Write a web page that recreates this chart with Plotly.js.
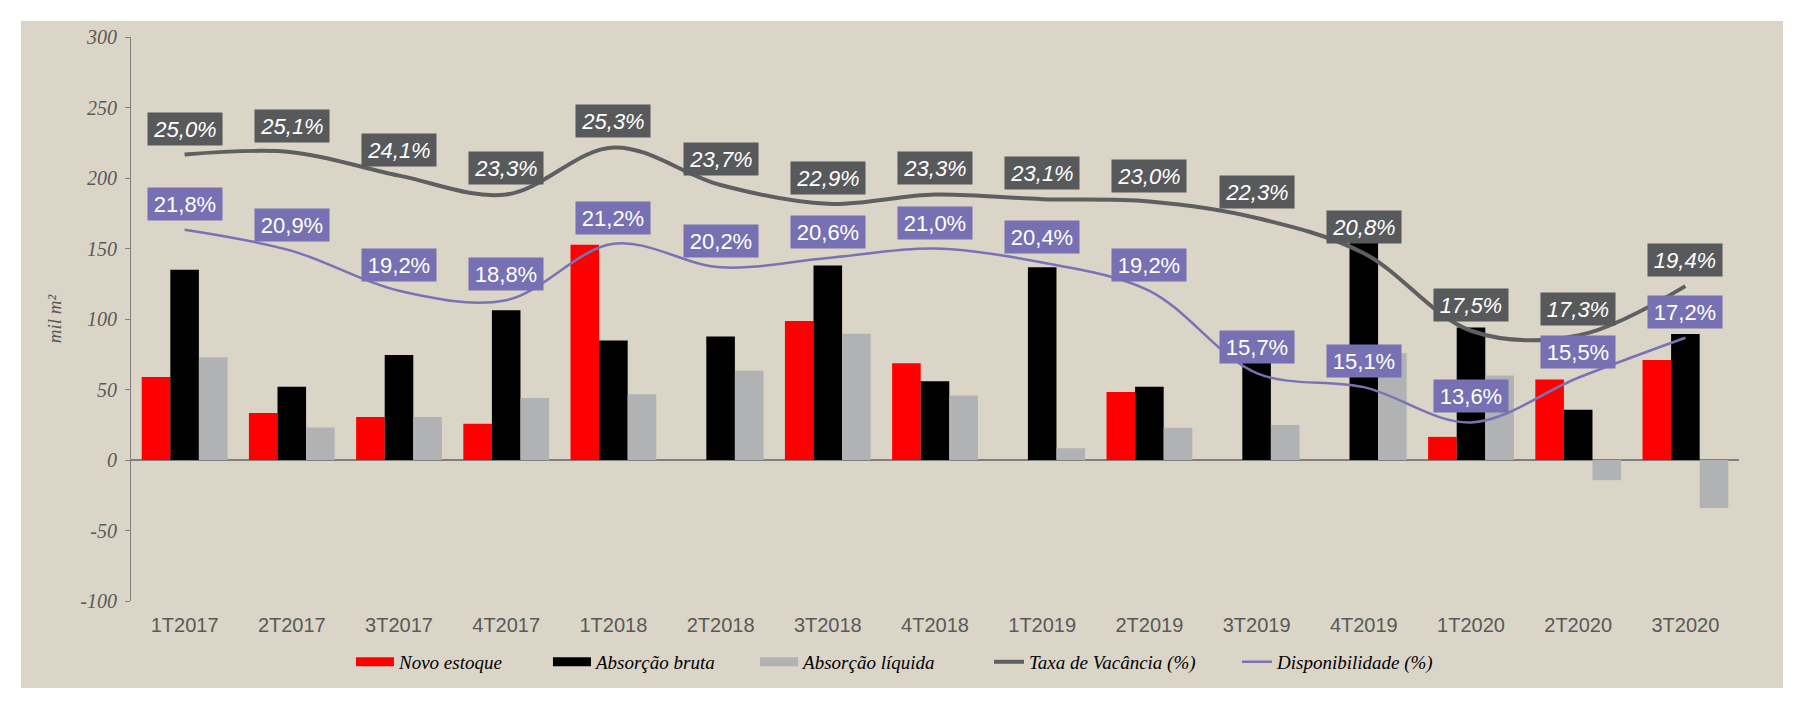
<!DOCTYPE html>
<html>
<head>
<meta charset="utf-8">
<script src="https://cdn.plot.ly/plotly-3.0.1.min.js"></script>
<style>
  html, body { margin: 0; padding: 0; background: #ffffff; }
  #chart { position: absolute; left: 21px; top: 21px; width: 1762px; height: 667px; }
</style>
</head>
<body>
<div id="chart"></div>
<script>
const categories = ['1T2017','2T2017','3T2017','4T2017','1T2018','2T2018','3T2018','4T2018','1T2019','2T2019','3T2019','4T2019','1T2020','2T2020','3T2020'];
const novoEstoque     = [58.8, 33.3, 30.5, 25.7, 152.6, 0, 98.6, 68.6, 0, 48.3, 0, 0, 16.4, 57.1, 70.9];
const absorcaoBruta   = [135, 51.9, 74.5, 106.2, 84.8, 87.6, 138, 55.9, 136.7, 51.9, 70.2, 155.2, 94, 35.7, 89.3];
const absorcaoLiquida = [72.9, 23.1, 30.5, 44, 46.7, 63.3, 89.5, 45.7, 8.3, 22.9, 24.8, 75.7, 60, -14.3, -34];
const taxaVacancia    = [25.0, 25.1, 24.1, 23.3, 25.3, 23.7, 22.9, 23.3, 23.1, 23.0, 22.3, 20.8, 17.5, 17.3, 19.4];
const disponibilidade = [21.8, 20.9, 19.2, 18.8, 21.2, 20.2, 20.6, 21.0, 20.4, 19.2, 15.7, 15.1, 13.6, 15.5, 17.2];
const yTickVals = [-100, -50, 0, 50, 100, 150, 200, 250, 300];
const yTickText = ['-100', '-50', '0', '50', '100', '150', '200', '250', '300'];

const RED = '#ff0000', BLACK = '#000000', GREY = '#b1b2b3';
const TAXA = '#5e5f61', TAXA_BOX = '#58595b';
const DISP = '#7a72b5', DISP_BOX = '#7770b3';
const SERIF = "'Liberation Serif', 'Times New Roman', serif";
const SANS = "'Liberation Sans', Arial, sans-serif";
const fmt = v => v.toFixed(1).replace('.', ',') + '%';

const barNames = ['Novo estoque', 'Absorção bruta', 'Absorção líquida'];
const barData = [novoEstoque, absorcaoBruta, absorcaoLiquida];
const barColors = [RED, BLACK, GREY];
const lineNames = ['Taxa de Vacância (%)', 'Disponibilidade (%)'];

const traces = [];
barData.forEach((vals, i) => {
  traces.push({
    type: 'bar', x: categories, y: vals, name: barNames[i],
    marker: { color: barColors[i] }, showlegend: false, legendgroup: 'g' + i,
    hoverinfo: 'x+y+name'
  });
});
traces.push({
  type: 'scatter', mode: 'lines', x: categories, y: taxaVacancia, yaxis: 'y2',
  name: lineNames[0], line: { color: TAXA, width: 4, shape: 'spline', smoothing: 1 },
  showlegend: false, legendgroup: 'g3'
});
traces.push({
  type: 'scatter', mode: 'lines', x: categories, y: disponibilidade, yaxis: 'y2',
  name: lineNames[1], line: { color: DISP, width: 2.5, shape: 'spline', smoothing: 1 },
  showlegend: false, legendgroup: 'g4'
});
// legend entries (styled like the reference swatches), one legend box each
const legendIds = ['legend', 'legend2', 'legend3', 'legend4', 'legend5'];
barNames.forEach((n, i) => {
  traces.push({ type: 'scatter', mode: 'lines', x: [categories[0]], y: [null], name: n,
    line: { color: barColors[i], width: 9 }, legendgroup: 'g' + i, legend: legendIds[i], hoverinfo: 'skip' });
});
traces.push({ type: 'scatter', mode: 'lines', x: [categories[0]], y: [null], name: lineNames[0],
  line: { color: TAXA, width: 4 }, legendgroup: 'g3', legend: legendIds[3], hoverinfo: 'skip' });
traces.push({ type: 'scatter', mode: 'lines', x: [categories[0]], y: [null], name: lineNames[1],
  line: { color: DISP, width: 2.5 }, legendgroup: 'g4', legend: legendIds[4], hoverinfo: 'skip' });

const annotations = [];
categories.forEach((c, i) => {
  annotations.push({
    x: c, y: taxaVacancia[i], xref: 'x', yref: 'y2', yshift: 26, showarrow: false,
    text: fmt(taxaVacancia[i]), bgcolor: TAXA_BOX, width: 72, height: 30,
    font: { family: SANS, size: 22, color: '#ffffff', style: 'italic' }
  });
  annotations.push({
    x: c, y: disponibilidade[i], xref: 'x', yref: 'y2', yshift: 26, showarrow: false,
    text: fmt(disponibilidade[i]), bgcolor: DISP_BOX, width: 72, height: 30,
    font: { family: SANS, size: 22, color: '#ffffff' }
  });
});

const legendX = [0.1368, 0.2593, 0.3881, 0.5336, 0.6878];
const legendItemW = [38, 38, 38, 30, 30];
const layout = {
  width: 1762, height: 667,
  paper_bgcolor: '#dbd5c8', plot_bgcolor: 'rgba(0,0,0,0)',
  margin: { l: 110, r: 44, t: 16, b: 87, pad: 0, autoexpand: false },
  barmode: 'group', bargap: 0.2, bargroupgap: 0,
  showlegend: true,
  xaxis: {
    type: 'category', range: [-0.5, 14.5], showline: false, showgrid: false, zeroline: false,
    ticks: '', ticklabelstandoff: 10,
    tickfont: { family: SANS, size: 20, color: '#595959' }
  },
  yaxis: {
    range: [-100, 300], tickmode: 'array', tickvals: yTickVals, ticktext: yTickText, showgrid: false,
    showline: true, linecolor: '#808080', linewidth: 1,
    zeroline: true, zerolinecolor: '#808080', zerolinewidth: 1.5,
    ticks: 'outside', ticklen: 5, tickcolor: '#808080', ticklabelstandoff: 4,
    tickfont: { family: SERIF, size: 20, color: '#595959', style: 'italic' },
    title: { text: 'mil m²', standoff: 13,
      font: { family: SERIF, size: 19, color: '#595959', style: 'italic' } }
  },
  yaxis2: { overlaying: 'y', range: [6, 30], visible: false, showgrid: false, zeroline: false },
  annotations: annotations
};
legendIds.forEach((id, i) => {
  layout[id] = {
    orientation: 'h', x: legendX[i], xanchor: 'left', y: -0.108, yanchor: 'middle',
    bgcolor: 'rgba(0,0,0,0)', itemwidth: legendItemW[i],
    font: { family: SERIF, size: 19, color: '#000000', style: 'italic' }
  };
});

Plotly.newPlot('chart', traces, layout, { displayModeBar: false, responsive: false });
</script>
</body>
</html>
